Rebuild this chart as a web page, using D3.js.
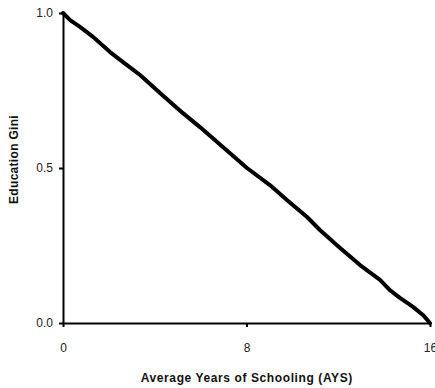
<!DOCTYPE html>
<html>
<head>
<meta charset="utf-8">
<script src="https://cdn.jsdelivr.net/npm/d3@7"></script>
<style>
  body { margin: 0; background: #fff; }
  svg { display: block; font-family: "Liberation Sans", Arial, sans-serif; }
</style>
</head>
<body>
<div id="chart"></div>
<script>
var width = 435;
var height = 388;
var margin = {top: 13, right: 5, bottom: 65, left: 63};

// average years of schooling vs education gini
var ays  = [0, 0.31, 0.74, 1.31, 2.05, 2.79, 3.36, 4.23, 5.23, 5.97, 6.97, 8.02,
            9.02, 9.76, 10.64, 11.2, 12.08, 12.95, 13.82, 14.25, 14.69, 15.26, 15.69, 16];
var gini = [1.0, 0.977, 0.955, 0.923, 0.874, 0.832, 0.8, 0.742, 0.677, 0.632, 0.568, 0.5,
            0.445, 0.397, 0.342, 0.3, 0.242, 0.187, 0.139, 0.106, 0.081, 0.052, 0.026, 0.0];
var xTicks = [0, 8, 16];
var yTicks = [0, 0.5, 1.0];

var svg = d3.select("#chart").append("svg")
  .attr("width", width)
  .attr("height", height)
  .style("background", "#fff");

var x = d3.scaleLinear().domain([0, 16]).range([margin.left, width - margin.right]);
var y = d3.scaleLinear().domain([0, 1]).range([height - margin.bottom, margin.top]);

//-------- axes --------
var gx = svg.append("g")
  .attr("transform", "translate(0," + y(0) + ")")
  .call(d3.axisBottom(x).tickValues(xTicks).tickFormat(d3.format("d"))
        .tickSize(4).tickSizeOuter(0).tickPadding(16));

var gy = svg.append("g")
  .attr("transform", "translate(" + x(0) + ",0)")
  .call(d3.axisLeft(y).tickValues(yTicks).tickFormat(d3.format(".1f"))
        .tickSize(4).tickSizeOuter(0).tickPadding(6));

[gx, gy].forEach(function(g){
  g.select(".domain").attr("stroke", "#000").attr("stroke-width", 2);
  g.selectAll(".tick line").attr("stroke", "#000").attr("stroke-width", 2);
  g.selectAll(".tick text")
    .attr("fill", "#222")
    .style("font-family", "Liberation Sans, Arial, sans-serif")
    .style("font-size", "12px");
});

//-------- curve --------
var pts = ays.map(function(d, i){ return [d, gini[i]]; });
var line = d3.line()
  .x(function(d){ return x(d[0]); })
  .y(function(d){ return y(d[1]); });

svg.append("path")
  .datum(pts)
  .attr("d", line)
  .attr("fill", "none")
  .attr("stroke", "#000")
  .attr("stroke-width", 4)
  .attr("stroke-linejoin", "round")
  .attr("stroke-linecap", "round");

//-------- titles --------
svg.append("text")
  .attr("x", x(8) + 0.3)
  .attr("y", 382)
  .attr("text-anchor", "middle")
  .style("font-size", "12px")
  .style("font-weight", "bold")
  .style("letter-spacing", "0.6px")
  .attr("fill", "#111")
  .text("Average Years of Schooling (AYS)");

svg.append("text")
  .attr("transform", "translate(17.5,159.5) rotate(-90)")
  .attr("text-anchor", "middle")
  .style("font-size", "12px")
  .style("font-weight", "bold")
  .style("letter-spacing", "0.3px")
  .attr("fill", "#111")
  .text("Education Gini");
</script>
</body>
</html>
